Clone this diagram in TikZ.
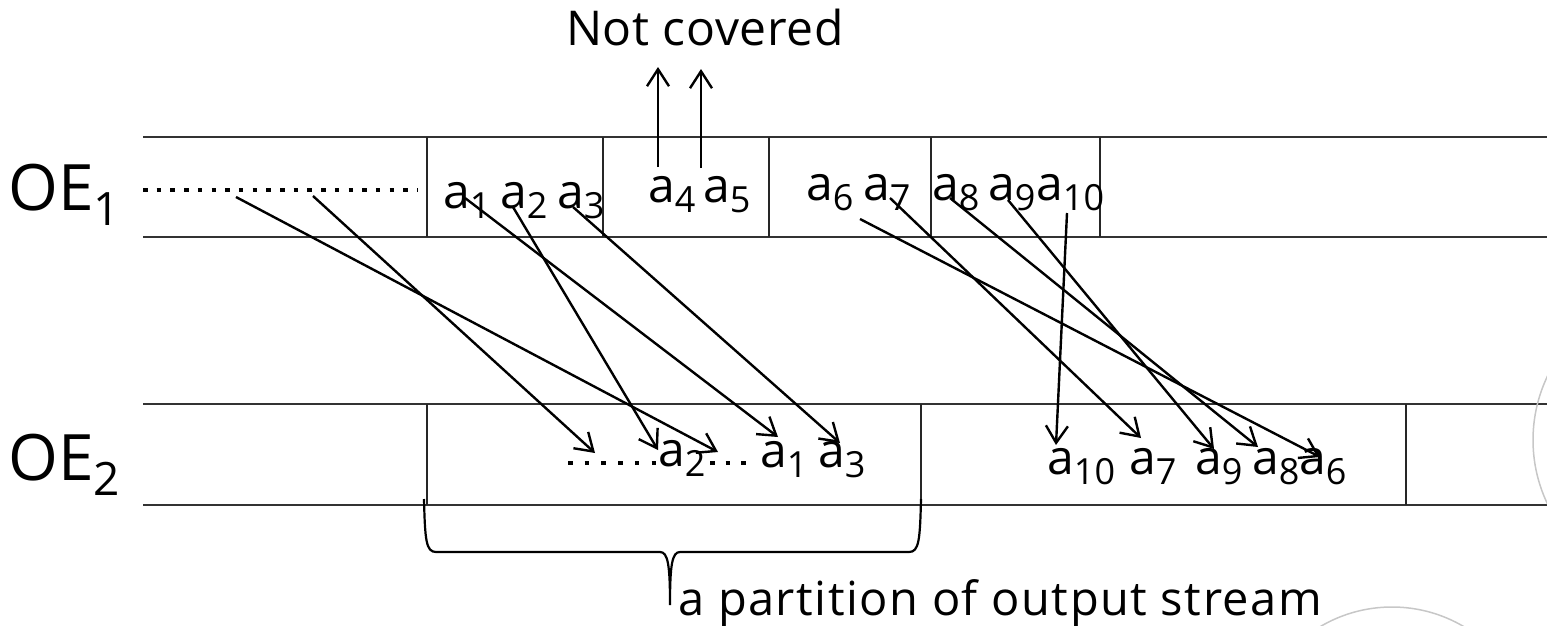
\documentclass[tikz,border=0pt]{standalone}
\usepackage{fontspec}
\setmainfont{Open Sans}
\usetikzlibrary{arrows.meta,calc}
\newcommand{\subn}[1]{\raisebox{-10pt}{\fontsize{36}{36}\selectfont #1}}
\newcommand{\subOE}[1]{\raisebox{-15pt}{\fontsize{46}{46}\selectfont #1}}
\begin{document}
\begin{tikzpicture}[x=1pt,y=-1pt,
  arr/.style={-{Straight Barb[length=17pt,width=22pt]},line width=2.4pt},
  rowline/.style={line width=1.4pt,draw=black!80},
  divider/.style={line width=1.3pt,draw=black!85},
  lbl/.style={inner sep=0pt,anchor=base west,font=\fontsize{48}{48}\selectfont},
  oelbl/.style={inner sep=0pt,anchor=base west,font=\fontsize{64}{64}\selectfont},
  dotline/.style={line width=4.5pt,dash pattern=on 4.5pt off #1},
  ghost/.style={line width=1.5pt,draw=black!22},
  bracepath/.style={line width=2.2pt}]
\useasboundingbox (0,0) rectangle (1547,625);
\clip (0,0) rectangle (1547,625);
% rows
\draw[rowline] (143,137) -- (1547,137);
\draw[rowline] (143,237) -- (1547,237);
\draw[rowline] (143,404) -- (1547,404);
\draw[rowline] (143,505) -- (1547,505);
\foreach \x in {427,603,769,931,1100} \draw[divider] (\x,137) -- (\x,237);
\foreach \x in {427,921,1406} \draw[divider] (\x,404) -- (\x,505);
% labels
\node[oelbl] (oe1) at (8,210) {OE\subOE{1}};
\node[oelbl] (oe2) at (8,480) {OE\subOE{2}};
\node[inner sep=0pt,anchor=base,font=\fontsize{48}{48}\selectfont\addfontfeature{LetterSpace=1.5}] (nc) at (705,45) {Not covered};
% top dotted line
\coordinate (dl) at (143,190);
\coordinate (dr) at (418,190);
\draw[dotline=9.2pt] (dl) -- (dr);
\coordinate (s1) at (236,197);
\coordinate (s2) at (313,196);
% top elements
\node[lbl] (t1) at (443,208) {a\subn{1}};
\node[lbl] (t2) at (500,208) {a\subn{2}};
\node[lbl] (t3) at (557,208) {a\subn{3}};
\node[lbl] (t4) at (648,202) {a\subn{4}};
\node[lbl] (t5) at (703,202) {a\subn{5}};
\node[lbl] (t6) at (806,200) {a\subn{6}};
\node[lbl] (t7) at (863,200) {a\subn{7}};
\node[lbl] (t8) at (932,200) {a\subn{8}};
\node[lbl] (t9) at (988,200) {a\subn{9}};
\node[lbl] (t10) at (1036,200) {a\subn{10}};
% bottom elements
\coordinate (bd1a) at (568,463);
\coordinate (bd1b) at (656,463);
\draw[dotline=12.2pt] (bd1a) -- (bd1b);
\coordinate (bd2a) at (710,463);
\coordinate (bd2b) at (746,463);
\draw[dotline=11pt] (bd2a) -- (bd2b);
\coordinate (e1) at (718,452);
\coordinate (e2) at (595,453);
\node[lbl] (b2) at (658,466) {a\subn{2}};
\node[lbl] (b1) at (760,467) {a\subn{1}};
\node[lbl] (b3) at (818,467) {a\subn{3}};
\node[lbl] (b10) at (1047,474) {a\subn{10}};
\node[lbl] (b7) at (1129,474) {a\subn{7}};
\node[lbl] (b9) at (1195,474) {a\subn{9}};
\node[lbl] (b8) at (1252,474) {a\subn{8}};
\node[lbl] (b6) at (1299,474) {a\subn{6}};
% arrows
\draw[arr] ([shift={(10,-35)}]t4.base west) -- ([shift={(-47,22)}]nc.base);
\draw[arr] ([shift={(-2,-34)}]t5.base west) -- ([shift={(-4,24)}]nc.base);
\draw[arr] (s1) -- (e1);
\draw[arr] (s2) -- (e2);
\draw[arr] ([shift={(22,-10)}]t1.base west) -- ([shift={(18,-30)}]b1.base west);
\draw[arr] ([shift={(13,-1)}]t2.base west) -- ([shift={(0,-16)}]b2.base west);
\draw[arr] ([shift={(16,-1)}]t3.base west) -- ([shift={(22,-24)}]b3.base west);
\draw[arr] ([shift={(54,19)}]t6.base west) -- ([shift={(21,-17)}]b6.base west);
\draw[arr] ([shift={(27,-2)}]t7.base west) -- ([shift={(12,-36)}]b7.base west);
\draw[arr] ([shift={(18,-2)}]t8.base west) -- ([shift={(6,-27)}]b8.base west);
\draw[arr] ([shift={(20,0)}]t9.base west) -- ([shift={(19,-25)}]b9.base west);
\draw[arr] ([shift={(31,13)}]t10.base west) -- ([shift={(9,-29)}]b10.base west);
% brace
\coordinate (bl) at (424,499);
\coordinate (br) at (921,499);
\coordinate (btip) at (670,605);
\draw[bracepath] (bl) .. controls (425,540) and (426,552) .. (436,552) -- (660,552)
  .. controls (668,552) and (670,565) .. (btip)
  .. controls (670,565) and (672,552) .. (680,552) -- (909,552)
  .. controls (919,552) and (920,540) .. (br);
\node[inner sep=0pt,anchor=base west,font=\fontsize{47}{47}\selectfont\addfontfeature{LetterSpace=3.2}] (part) at (678,615) {a partition of output stream};
% faint circles
\draw[ghost] (1681,440) circle (148);
\draw[ghost] (1392,748) circle (141);
\end{tikzpicture}
\end{document}
